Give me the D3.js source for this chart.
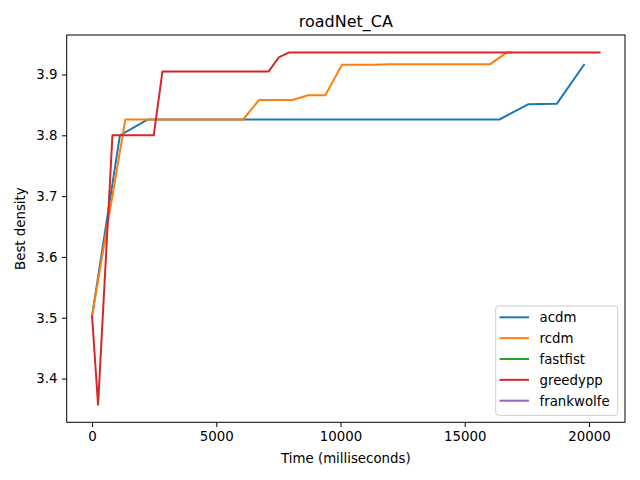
<!DOCTYPE html>
<html>
<head>
<meta charset="utf-8">
<script src="https://cdn.jsdelivr.net/npm/d3@7"></script>
<style>
  html, body { margin: 0; padding: 0; background: #fff; }
  svg { display: block; font-family: "DejaVu Sans", sans-serif; }
</style>
</head>
<body>
<svg id="chart" width="640" height="480"></svg>
<script>
// ---- data ----
const seriesNames = ["acdm", "rcdm", "fastfist", "greedypp", "frankwolfe"];
const seriesColors = ["#1f77b4", "#ff7f0e", "#2ca02c", "#d62728", "#9467bd"];

const acdmTime    = [0, 1120, 2250, 16400, 17550, 18710, 19800];
const acdmDensity = [3.503, 3.800, 3.826, 3.826, 3.851, 3.852, 3.916];

const rcdmTime    = [0, 1340, 6080, 6720, 8065, 8690, 9390, 10060, 11310, 12020, 16030, 16680, 16870];
const rcdmDensity = [3.503, 3.826, 3.826, 3.858, 3.858, 3.866, 3.866, 3.916, 3.916, 3.917, 3.917, 3.936, 3.936];

const fastfistTime    = [];
const fastfistDensity = [];

const greedyppTime    = [0, 241, 820, 2483, 2833, 7110, 7513, 7915, 20430];
const greedyppDensity = [3.502, 3.357, 3.800, 3.800, 3.905, 3.905, 3.928, 3.936, 3.936];

const frankwolfeTime    = [];
const frankwolfeDensity = [];

const xTicks = [0, 5000, 10000, 15000, 20000];
const yTicks = [3.4, 3.5, 3.6, 3.7, 3.8, 3.9];

const titleText = "roadNet_CA";
const xLabel = "Time (milliseconds)";
const yLabel = "Best density";

// ---- build series ----
const times = [acdmTime, rcdmTime, fastfistTime, greedyppTime, frankwolfeTime];
const dens  = [acdmDensity, rcdmDensity, fastfistDensity, greedyppDensity, frankwolfeDensity];
const series = seriesNames.map((name, i) => ({
  name, color: seriesColors[i],
  points: times[i].map((t, j) => ({ t, d: dens[i][j] }))
}));

// ---- layout ----
const svg = d3.select("#chart");
const pL = 66.7, pR = 625, pT = 35, pB = 422.3;

const allPts = series.flatMap(s => s.points);
const xExt = d3.extent(allPts, p => p.t);
const yExt = d3.extent(allPts, p => p.d);
const xPad = (xExt[1] - xExt[0]) * 0.05;
const yPad = (yExt[1] - yExt[0]) * 0.05;

const x = d3.scaleLinear().domain([xExt[0] - xPad, xExt[1] + xPad]).range([pL, pR]);
const y = d3.scaleLinear().domain([yExt[0] - yPad, yExt[1] + yPad]).range([pB, pT]);

// lines
const line = d3.line().x(p => x(p.t)).y(p => y(p.d));
const plot = svg.append("g");
plot.append("clipPath").attr("id", "clip")
  .append("rect").attr("x", pL).attr("y", pT).attr("width", pR - pL).attr("height", pB - pT);
const lines = plot.append("g").attr("clip-path", "url(#clip)");
series.forEach(s => {
  if (s.points.length === 0) return;
  lines.append("path")
    .datum(s.points)
    .attr("d", line)
    .attr("fill", "none")
    .attr("stroke", s.color)
    .attr("stroke-width", 2)
    .attr("stroke-linejoin", "round")
    .attr("stroke-linecap", "square");
});

// axes
const xAxis = d3.axisBottom(x).tickValues(xTicks).tickFormat(d3.format("d")).tickSizeOuter(0).tickSize(4.67).tickPadding(4.67);
const yAxis = d3.axisLeft(y).tickValues(yTicks).tickFormat(d3.format(".1f")).tickSizeOuter(0).tickSize(4.67).tickPadding(4.67);

const gx = svg.append("g").attr("transform", `translate(0,${pB})`).call(xAxis);
const gy = svg.append("g").attr("transform", `translate(${pL},0)`).call(yAxis);
[gx, gy].forEach(g => {
  g.select(".domain").remove();
  g.selectAll(".tick line").attr("stroke", "#000").attr("stroke-width", 1);
  g.selectAll(".tick text").attr("fill", "#000").style("font-size", "13.33px").style("font-family", "DejaVu Sans, sans-serif");
});

// frame
svg.append("rect")
  .attr("x", pL).attr("y", pT).attr("width", pR - pL).attr("height", pB - pT)
  .attr("fill", "none").attr("stroke", "#000").attr("stroke-width", 1);

// title & labels
svg.append("text").attr("x", (pL + pR) / 2).attr("y", 27)
  .attr("text-anchor", "middle").style("font-size", "16px").text(titleText);
svg.append("text").attr("x", (pL + pR) / 2).attr("y", 463)
  .attr("text-anchor", "middle").style("font-size", "13.33px").text(xLabel);
svg.append("text").attr("transform", `translate(25,${(pT + pB) / 2}) rotate(-90)`)
  .attr("text-anchor", "middle").style("font-size", "13.33px").text(yLabel);

// legend
const lgX = 495.7, lgY = 306, lgW = 122, lgH = 109.3;
svg.append("rect").attr("x", lgX).attr("y", lgY).attr("width", lgW).attr("height", lgH)
  .attr("rx", 3).attr("fill", "#fff").attr("fill-opacity", 0.8)
  .attr("stroke", "#ccc").attr("stroke-width", 1);
series.forEach((s, i) => {
  const ry = 317.3 + i * 20.85;
  svg.append("line").attr("x1", 499.5).attr("x2", 529).attr("y1", ry).attr("y2", ry)
    .attr("stroke", s.color).attr("stroke-width", 2);
  svg.append("text").attr("x", 539.5).attr("y", ry + 4.8)
    .style("font-size", "13.33px").text(s.name);
});
</script>
</body>
</html>
